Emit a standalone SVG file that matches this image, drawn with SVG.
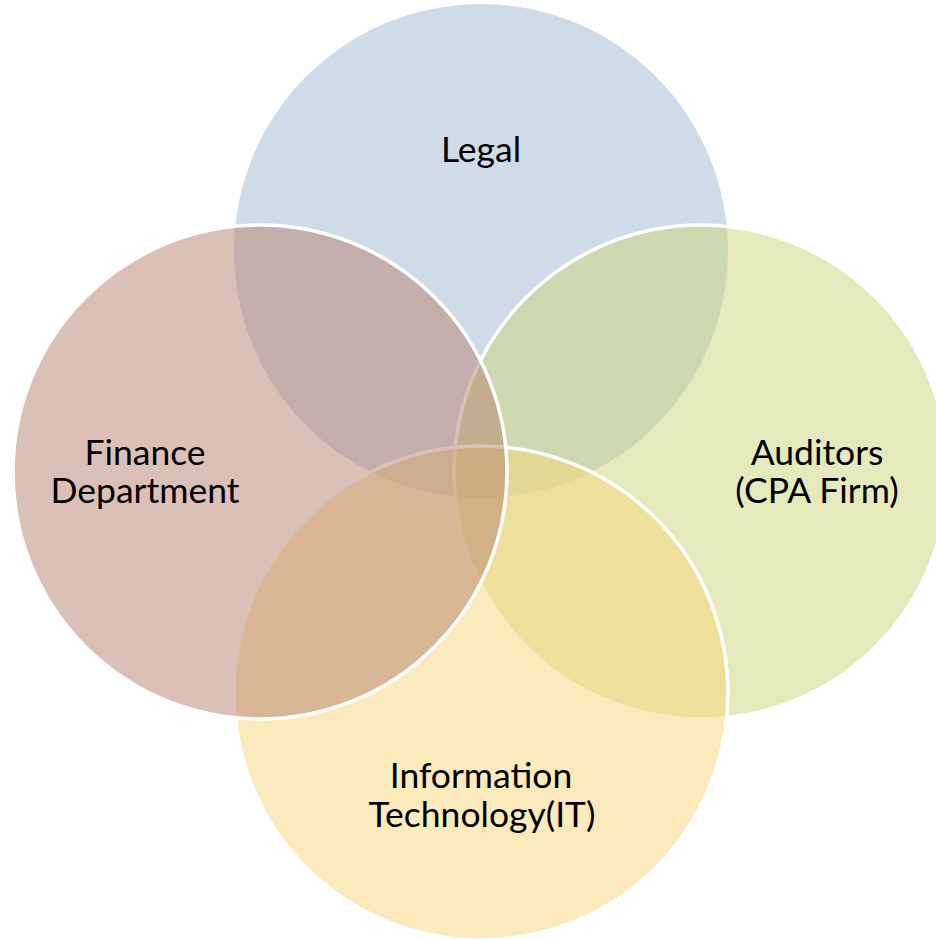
<svg xmlns="http://www.w3.org/2000/svg" width="936" height="939" viewBox="0 0 936 939">
  <style>
    .ring { stroke: #ffffff; stroke-width: 3.5; }
    .fill { fill-opacity: 0.5; }
    .label { font-family: "Lato", "Open Sans", "Liberation Sans", sans-serif; font-size: 35.5px; fill: #000000; text-anchor: middle; }
  </style>
  <rect width="936" height="939" fill="#ffffff"/>

  <!-- Legal: top circle, drawn first, no visible outline -->
  <g id="legal">
    <circle class="fill" cx="481" cy="251" r="247" fill="#9fb7cd"/>
    <text class="label" x="481" y="162">Legal</text>
  </g>

  <!-- Auditors: right circle -->
  <g id="auditors">
    <circle class="fill ring" cx="701" cy="472" r="247" fill="#cbd57b"/>
    <text class="label" x="817" y="465">Auditors</text>
    <text class="label" x="817" y="503">(CPA Firm)</text>
  </g>

  <!-- Information Technology: bottom circle -->
  <g id="it">
    <circle class="fill ring" cx="481" cy="693" r="247" fill="#f7d577"/>
    <text class="label" x="481" y="788">Information</text>
    <text class="label" x="482" y="827">Technology(IT)</text>
  </g>

  <!-- Finance Department: left circle, drawn last -->
  <g id="finance">
    <circle class="fill ring" cx="260" cy="472" r="247" fill="#b7816f"/>
    <text class="label" x="145" y="465">Finance</text>
    <text class="label" x="145" y="503">Department</text>
  </g>

  <g id="connectors"/>
</svg>
